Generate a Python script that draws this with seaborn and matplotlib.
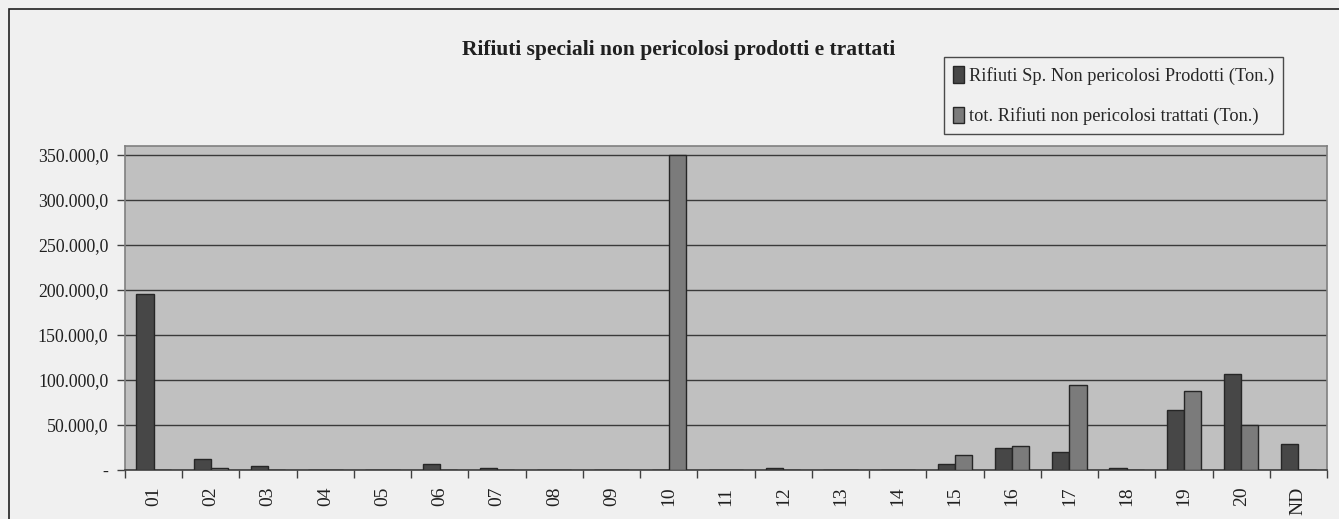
import pandas as pd
import matplotlib.pyplot as plt
import numpy as np
import seaborn as sns
from matplotlib.patches import Rectangle
from matplotlib.ticker import FuncFormatter

# Codici CER (capitoli)
categorie = ['01', '02', '03', '04', '05', '06', '07', '08', '09', '10', '11',
             '12', '13', '14', '15', '16', '17', '18', '19', '20', 'ND']
prodotti = [196000, 12500, 4400, 0, 0, 6700, 2500, 0, 0, 0, 0,
            2500, 0, 0, 6300, 24800, 20300, 2500, 66300, 106700, 28500]
trattati = [0, 2500, 0, 0, 0, 0, 0, 0, 0, 350000, 0,
            0, 0, 0, 16300, 26300, 94400, 0, 88100, 50300, 0]
serie = ['Rifiuti Sp. Non pericolosi Prodotti (Ton.)',
         'tot. Rifiuti non pericolosi trattati (Ton.)']

df = pd.DataFrame({
    'Codice': categorie * 2,
    'Tonnellate': prodotti + trattati,
    'Serie': [serie[0]] * len(categorie) + [serie[1]] * len(categorie),
})

sns.set_style('white')
plt.rcParams['font.family'] = ['Liberation Serif', 'DejaVu Serif']

fig = plt.figure(figsize=(13.39, 5.19), dpi=100, facecolor='#f0f0f0')
W, H = 1339, 519
ax = fig.add_axes([125 / W, 1 - 470 / H, (1327 - 125) / W, (470 - 146) / H])
ax.set_facecolor('#c0c0c0')

# cornice esterna del grafico (stile Excel)
fig.patches.append(Rectangle((9 / W, -0.1), 1.2, 1 - 9 / H + 0.1, transform=fig.transFigure,
                             fill=False, edgecolor='#202020', linewidth=1.2))

sns.barplot(data=df, x='Codice', y='Tonnellate', hue='Serie', ax=ax,
            palette=['#474747', '#7b7b7b'], width=0.6, edgecolor='#262626',
            linewidth=1.0, legend=True, zorder=3)

ax.set_ylim(0, 360000)
ax.set_xlim(-0.5, len(categorie) - 0.5)
ax.set_yticks(np.arange(0, 350001, 50000))
ax.yaxis.grid(True, color='#3a3a3a', linewidth=1, zorder=0)
ax.set_axisbelow(True)


def fmt_it(v, pos):
    if v == 0:
        return '-'
    s = f'{v:,.1f}'
    return s.replace(',', 'X').replace('.', ',').replace('X', '.')


ax.yaxis.set_major_formatter(FuncFormatter(fmt_it))
ax.tick_params(axis='y', left=True, length=6, width=1, color='#404040',
               labelsize=12.8, pad=6, colors='#202020')
ax.tick_params(axis='x', which='major', length=0, labelsize=14, pad=12,
               labelrotation=90, colors='#202020')
ax.set_xticks(np.arange(-0.5, len(categorie), 1.0), minor=True)
ax.tick_params(axis='x', which='minor', bottom=True, length=6, width=1, color='#404040')
for lab in ax.get_xticklabels():
    lab.set_verticalalignment('top')

ax.set_xlabel('')
ax.set_ylabel('')
for side in ['top', 'right', 'left']:
    ax.spines[side].set_color('#808080')
    ax.spines[side].set_linewidth(1.2)
ax.spines['bottom'].set_color('#404040')
ax.spines['bottom'].set_linewidth(1.2)

handles, labels = ax.get_legend_handles_labels()
ax.get_legend().remove()
leg = fig.legend(handles, labels, loc='upper right',
                 bbox_to_anchor=(1283 / W, 1 - 57 / H), frameon=True,
                 fancybox=False, fontsize=13.2, handlelength=0.6, handleheight=1.0,
                 handletextpad=0.25, labelspacing=1.2, borderpad=0.5,
                 borderaxespad=0)
leg.get_frame().set_edgecolor('#202020')
leg.get_frame().set_facecolor('#f0f0f0')
leg.get_frame().set_linewidth(1)

fig.text(679 / W, 1 - 50 / H, 'Rifiuti speciali non pericolosi prodotti e trattati',
         ha='center', va='center', fontsize=15.5, fontweight='bold', color='#202020')

fig.savefig('out.png', dpi=100, facecolor=fig.get_facecolor())
